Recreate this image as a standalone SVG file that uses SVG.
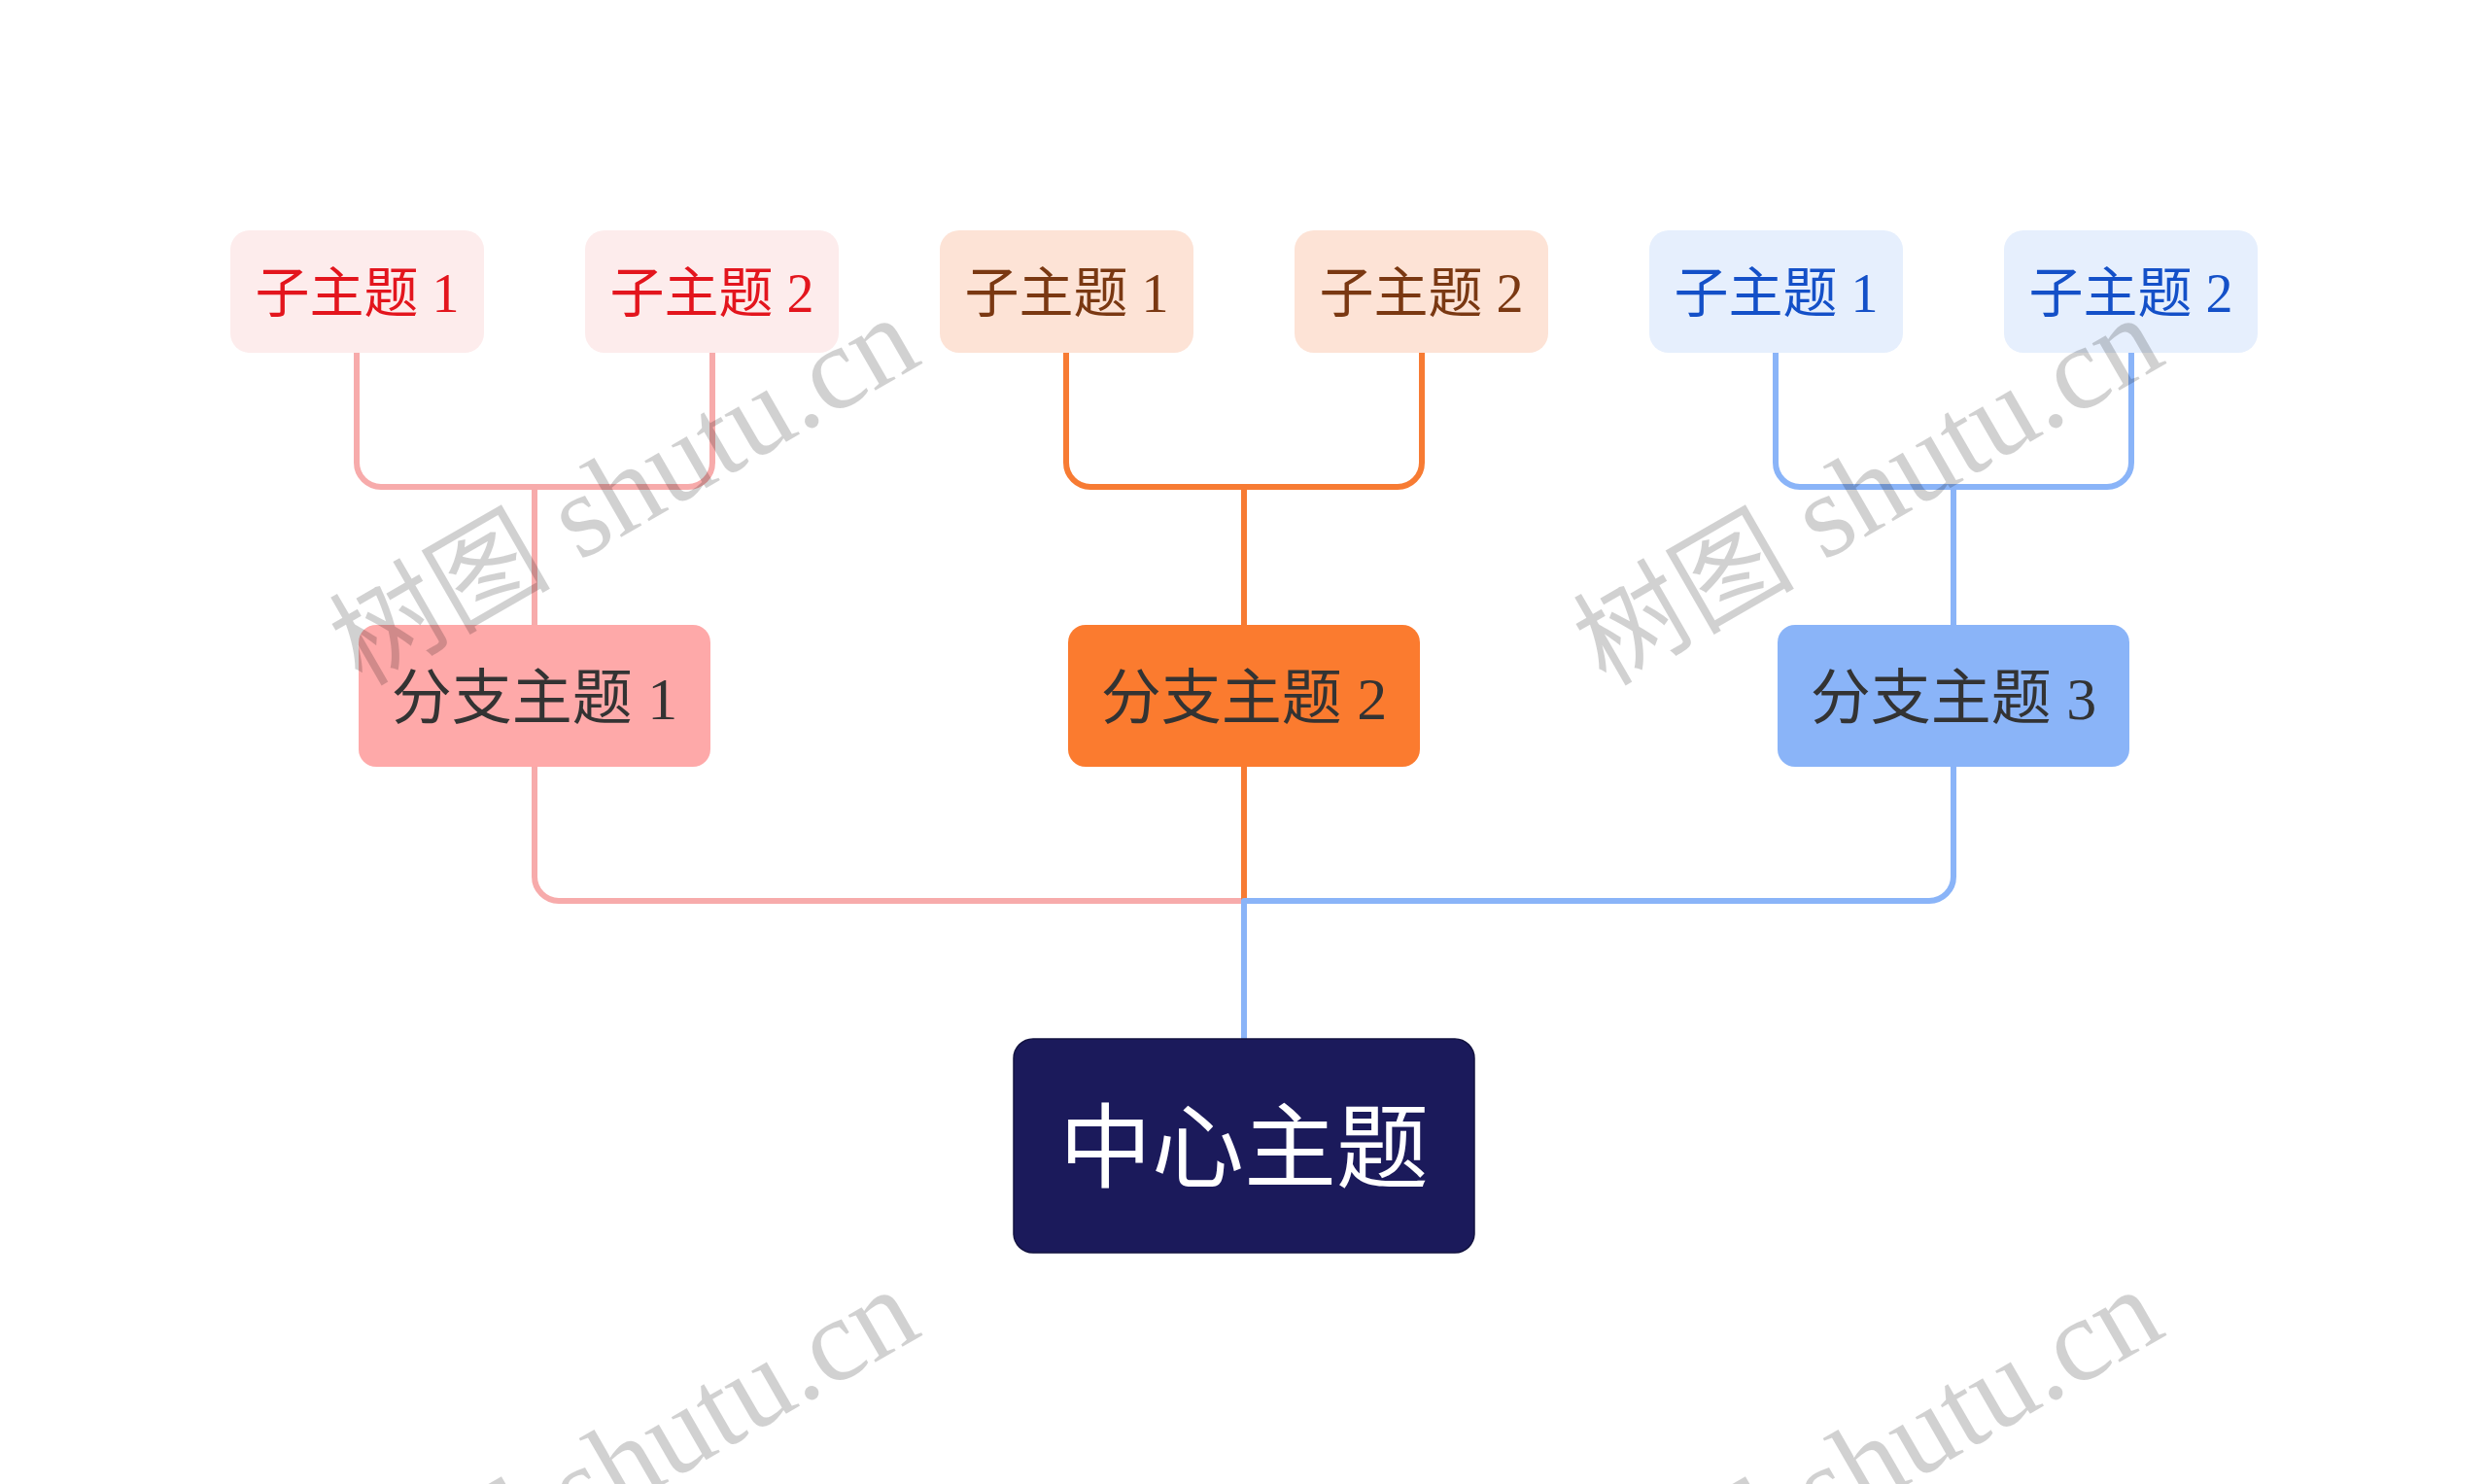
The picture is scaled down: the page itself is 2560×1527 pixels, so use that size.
<svg xmlns="http://www.w3.org/2000/svg" width="2560" height="1527" viewBox="0 0 2560 1527">
<style>
.ln{fill:none;stroke-width:6;stroke-linecap:butt;stroke-linejoin:round}
.pk{stroke:#F7ABAB}.or{stroke:#F77B33}.bl{stroke:#8AB4F8}
.t{font-family:"Liberation Serif","Noto Sans CJK SC",serif;text-anchor:middle}
.sub{font-size:56px}
.br{font-size:62px;fill:#333333}
.ct{font-family:"Noto Sans CJK SC","Noto Sans",sans-serif;font-size:95px;fill:#FFFFFF;text-anchor:middle}
.wm{font-family:"Liberation Serif","Noto Sans CJK SC",serif;font-size:114px;fill:#000000;fill-opacity:0.18}
.wl{font-size:122px}
</style>
<rect width="2560" height="1527" fill="#FFFFFF"/>
<g id="connectors">
<path class="ln pk" d="M367,363 V476 A25,25 0 0 0 392,501 H708 A25,25 0 0 0 733,476 V363"/>
<path class="ln pk" d="M550,501 V643"/>
<path class="ln or" d="M1097,363 V476 A25,25 0 0 0 1122,501 H1438 A25,25 0 0 0 1463,476 V363"/>
<path class="ln or" d="M1280,501 V643"/>
<path class="ln bl" d="M1827,363 V476 A25,25 0 0 0 1852,501 H2168 A25,25 0 0 0 2193,476 V363"/>
<path class="ln bl" d="M2010,501 V643"/>
<path class="ln pk" d="M550,789 V902 A25,25 0 0 0 575,927 H1280"/>
<path class="ln or" d="M1280,789 V927"/>
<path class="ln bl" d="M2010,789 V902 A25,25 0 0 1 1985,927 H1280 V1069"/>
</g>
<g id="sub-r1"><rect x="237" y="237" width="261" height="126" rx="20" fill="#FDECEC"/><text class="t sub" x="367.5" y="321" fill="#E3151D">子主题 1</text></g>
<g id="sub-r2"><rect x="602" y="237" width="261" height="126" rx="20" fill="#FDECEC"/><text class="t sub" x="732.5" y="321" fill="#E3151D">子主题 2</text></g>
<g id="sub-o1"><rect x="967" y="237" width="261" height="126" rx="20" fill="#FDE3D6"/><text class="t sub" x="1097.5" y="321" fill="#7A3812">子主题 1</text></g>
<g id="sub-o2"><rect x="1332" y="237" width="261" height="126" rx="20" fill="#FDE3D6"/><text class="t sub" x="1462.5" y="321" fill="#7A3812">子主题 2</text></g>
<g id="sub-b1"><rect x="1697" y="237" width="261" height="126" rx="20" fill="#E6EFFD"/><text class="t sub" x="1827.5" y="321" fill="#1450C8">子主题 1</text></g>
<g id="sub-b2"><rect x="2062" y="237" width="261" height="126" rx="20" fill="#E6EFFD"/><text class="t sub" x="2192.5" y="321" fill="#1450C8">子主题 2</text></g>
<g id="branch-1"><rect x="369" y="643" width="362" height="146" rx="18" fill="#FEA9A9"/><text class="t br" x="550" y="740">分支主题 1</text></g>
<g id="branch-2"><rect x="1099" y="643" width="362" height="146" rx="18" fill="#FB7B2F"/><text class="t br" x="1280" y="740">分支主题 2</text></g>
<g id="branch-3"><rect x="1829" y="643" width="362" height="146" rx="18" fill="#8AB4F8"/><text class="t br" x="2010" y="740">分支主题 3</text></g>
<g id="central"><rect x="1043" y="1069" width="474" height="220" rx="20" fill="#1B1A5B" stroke="#121240" stroke-width="1.5"/><text class="ct" x="1280" y="1215">中心主题</text></g>
<g id="watermarks">
<text class="wm" transform="translate(372,707) rotate(-30)">树图<tspan class="wl"> shutu.cn</tspan></text>
<text class="wm" transform="translate(1652,707) rotate(-30)">树图<tspan class="wl"> shutu.cn</tspan></text>
<text class="wm" transform="translate(372,1707) rotate(-30)">树图<tspan class="wl"> shutu.cn</tspan></text>
<text class="wm" transform="translate(1652,1707) rotate(-30)">树图<tspan class="wl"> shutu.cn</tspan></text>
</g>
</svg>
